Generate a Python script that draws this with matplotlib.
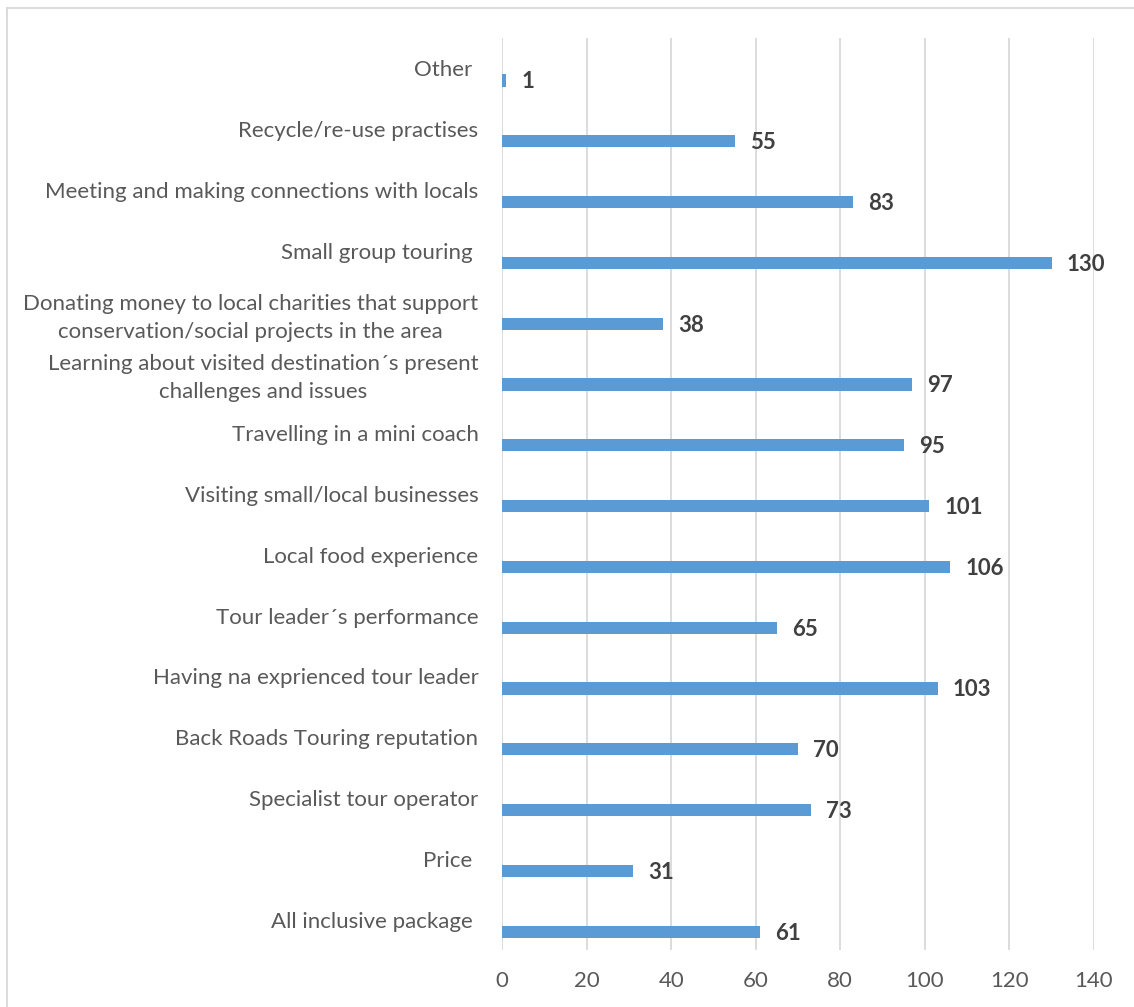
import numpy as np
import matplotlib.pyplot as plt
from matplotlib.lines import Line2D

plt.rcParams['font.family'] = ['Lato', 'DejaVu Sans']

# survey items, top to bottom
labels = [
    "Other ",
    "Recycle/re-use practises",
    "Meeting and making connections with locals",
    "Small group touring ",
    "Donating money to local charities that support\nconservation/social projects in the area",
    "Learning about visited destination\u00b4s present\nchallenges and issues",
    "Travelling in a mini coach",
    "Visiting small/local businesses",
    "Local food experience",
    "Tour leader\u00b4s performance",
    "Having na exprienced tour leader",
    "Back Roads Touring reputation",
    "Specialist tour operator",
    "Price ",
    "All inclusive package ",
]
counts = [1, 55, 83, 130, 38, 97, 95, 101, 106, 65, 103, 70, 73, 31, 61]
xticks = [0, 20, 40, 60, 80, 100, 120, 140]

fig = plt.figure(figsize=(11.34, 10.07), dpi=100)
ax = fig.add_axes([502 / 1134, 1 - 950 / 1007, (1094 - 502) / 1134, (950 - 38) / 1007])

pos = np.arange(len(labels))
ax.barh(pos + 0.2, counts, height=0.2, color='#5B9BD5', zorder=3)

for p, c in zip(pos, counts):
    ax.annotate(str(c), (c, p + 0.2), xytext=(11, -1), textcoords='offset points',
                va='center', ha='left', fontsize=16, fontweight='bold', color='#404040')

ax.set_ylim(len(labels) - 0.5, -0.5)
ax.set_xlim(0, 140)
ax.set_xticks(xticks)
ax.set_yticks(pos)
ax.set_yticklabels(labels, fontsize=16, color='#595959', multialignment='center',
                   linespacing=1.5)
ax.tick_params(axis='y', length=0, pad=17)
ax.tick_params(axis='x', length=0, pad=15, labelsize=16, labelcolor='#595959')
ax.grid(axis='x', color='#D9D9D9', linewidth=1.3, zorder=0)
for s in ax.spines.values():
    s.set_visible(False)

# frame around the chart area
fig.add_artist(Line2D([7 / 1134, 1.0], [1 - 8 / 1007] * 2, color='#D9D9D9', linewidth=1.3))
fig.add_artist(Line2D([7 / 1134] * 2, [0.0, 1 - 8 / 1007], color='#D9D9D9', linewidth=1.3))

fig.savefig('out.png', dpi=100)
